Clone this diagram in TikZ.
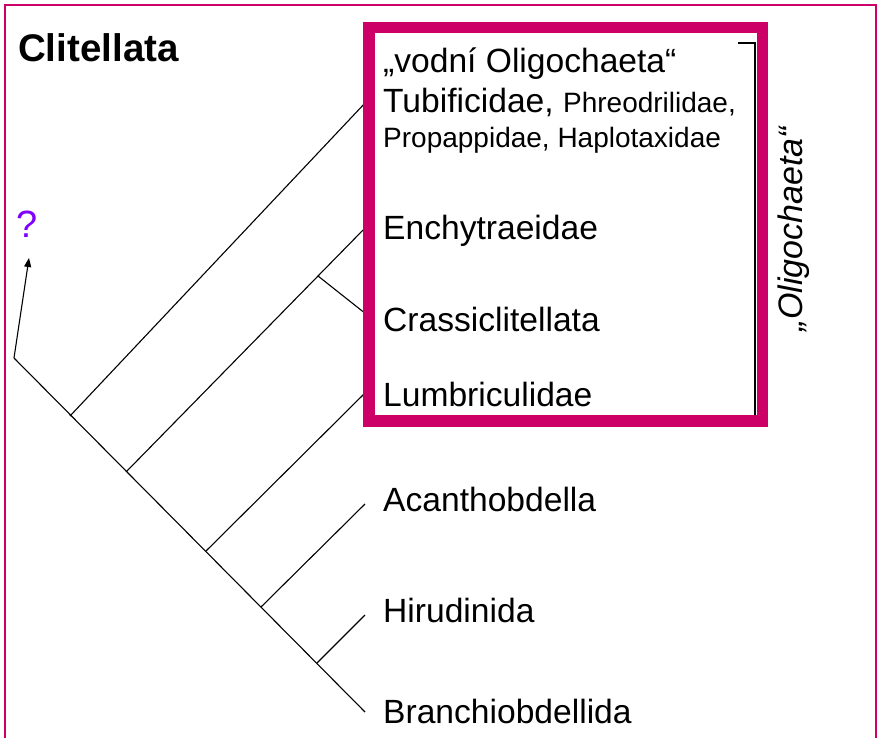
\documentclass[tikz,border=0pt]{standalone}
\usepackage{fontspec}
\setmainfont{Liberation Sans}
\usetikzlibrary{arrows.meta,calc}
\definecolor{frame}{RGB}{204,0,102}
\definecolor{qpurple}{RGB}{128,0,255}
\begin{document}
\begin{tikzpicture}[x=1pt,y=-1pt,
  branch/.style={line width=1.1pt,black},
  lab/.style={anchor=base west,inner sep=0pt,font=\fontsize{33.6}{39}\selectfont},
  smalllab/.style={anchor=base west,inner sep=0pt,font=\fontsize{28}{33}\selectfont}]
\useasboundingbox (0,0) rectangle (880,738);
\fill[white] (0,0) rectangle (880,738);
% outer frame (open at the bottom)
\draw[frame,line width=2.5pt] (5,740) -- (5,5) -- (876,5) -- (876,740);
% title
\node[anchor=base west,inner sep=0pt,font=\fontsize{38.5}{45}\selectfont\bfseries] (title) at (18,62) {Clitellata};
% tree coordinates
\coordinate (root) at (14,358);
\coordinate (n1) at (70,416);
\coordinate (n2) at (126,472);
\coordinate (n3) at (206,551);
\coordinate (n4) at (261,607);
\coordinate (n5) at (317,663);
\coordinate (tB) at (365,712);
\coordinate (t1) at (366,102);
\coordinate (t2) at (366,227);
\coordinate (t3) at (366,314);
\coordinate (t4) at (366,392);
\coordinate (t5) at (365,504);
\coordinate (t6) at (365,615);
\coordinate (nE) at ($(n2)!0.8!(t2)$);
\coordinate (q) at (29,258);
% branches
\draw[branch] (root) -- (tB);
\draw[branch] (n1) -- (t1);
\draw[branch] (n2) -- (t2);
\draw[branch] (nE) -- (t3);
\draw[branch] (n3) -- (t4);
\draw[branch] (n4) -- (t5);
\draw[branch] (n5) -- (t6);
\draw[branch,-{Triangle[length=9pt,width=7pt]}] (root) -- (q);
\node[anchor=base,inner sep=0pt,text=qpurple,font=\fontsize{38}{44}\selectfont] (qm) at (27,237) {?};
% thin bracket
\draw[line width=1.1pt] (738,43) -- (755,43) -- (755,416);
% magenta box
\draw[frame,line width=11.5pt] (369,27.5) rectangle (762.5,421);
% labels
\node[lab] (vod) at (383,73) {„vodní Oligochaeta“};
\node[lab] (tub) at (383,113) {Tubificidae, {\fontsize{28}{33}\selectfont Phreodrilidae,}};
\node[smalllab] (pro) at (383,148) {Propappidae, Haplotaxidae};
\node[lab] (enc) at (383,239) {Enchytraeidae};
\node[lab] (cra) at (383,331) {Crassiclitellata};
\node[lab] (lum) at (383,406) {Lumbriculidae};
\node[lab] (aca) at (383,511) {Acanthobdella};
\node[lab] (hir) at (383,622) {Hirudinida};
\node[lab] (bra) at (383,723) {Branchiobdellida};
\node[anchor=base,inner sep=0pt,rotate=90,font=\fontsize{34}{40}\selectfont\itshape] (oli) at (802,229) {„Oligochaeta“};
\end{tikzpicture}
\end{document}
